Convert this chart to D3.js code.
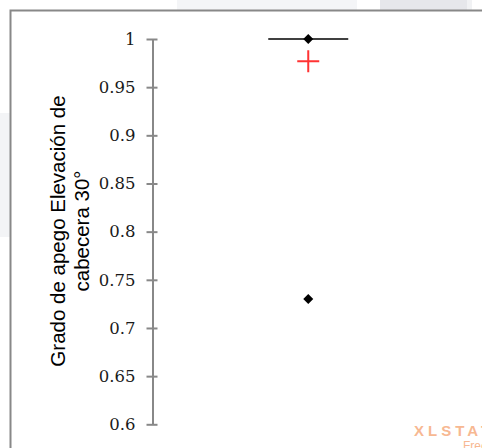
<!DOCTYPE html>
<html>
<head>
<meta charset="utf-8">
<script src="https://cdn.jsdelivr.net/npm/d3@7"></script>
<style>
  body { margin: 0; background: #fff; }
  svg { display: block; }
</style>
</head>
<body>
<div id="chart"></div>
<script>
const width = 482
const height = 448

// data
const categories = ['Grado de apego Elevación de cabecera 30°']
const minValues = [0.73]
const q1Values = [1]
const medianValues = [1]
const q3Values = [1]
const maxValues = [1]
const meanValues = [0.977]
const yTicks = [0.6, 0.65, 0.7, 0.75, 0.8, 0.85, 0.9, 0.95, 1]
const yLabelLines = ['Grado de apego Elevación de', 'cabecera 30°']

const svg = d3.select('#chart').append('svg')
  .attr('width', width)
  .attr('height', height)

// faint page blocks behind the chart frame
const bg = [
  { x: 177, y: 0, w: 180, h: 10, c: '#f4f5f7' },
  { x: 380, y: 0, w: 87, h: 10, c: '#e6e7eb' },
  { x: 467, y: 0, w: 5, h: 10, c: '#f1f2f4' },
  { x: 0, y: 113, w: 10, h: 124, c: '#f3f4f6' }
]
svg.selectAll('rect.bg').data(bg).join('rect')
  .attr('class', 'bg')
  .attr('x', d => d.x).attr('y', d => d.y)
  .attr('width', d => d.w).attr('height', d => d.h)
  .attr('fill', d => d.c)

// frame
svg.append('path')
  .attr('d', `M10.5,${height} V10.5 H${width}`)
  .attr('fill', 'none')
  .attr('stroke', '#888')
  .attr('stroke-width', 2)

const y = d3.scaleLinear().domain([0.6, 1]).range([424.3, 39])
const x = d3.scaleBand().domain(categories).range([152.5, 464]).paddingInner(0).paddingOuter(0)

const yAxis = d3.axisLeft(y)
  .tickValues(yTicks)
  .tickFormat(d3.format('~g'))
  .tickSize(0)
  .tickPadding(17)

const gy = svg.append('g')
  .attr('transform', 'translate(152.5,0)')
  .call(yAxis)
gy.select('.domain').attr('stroke', '#888').attr('stroke-width', 2)
gy.selectAll('.tick line')
  .attr('x1', -6).attr('x2', 5)
  .attr('stroke', '#888').attr('stroke-width', 2)
gy.selectAll('.tick text')
  .attr('font-family', 'DejaVu Serif')
  .attr('font-size', 16.5)
  .attr('fill', '#1a1a1a')

// y axis title
const title = svg.append('text')
  .attr('transform', 'translate(65,231) rotate(-90)')
  .attr('text-anchor', 'middle')
  .attr('font-family', 'Liberation Sans, Arial, sans-serif')
  .attr('font-size', 20.5)
  .attr('fill', '#000')
title.selectAll('tspan').data(yLabelLines).join('tspan')
  .attr('x', 0)
  .attr('dy', (d, i) => i === 0 ? 0 : 24)
  .text(d => d)

// box (collapsed: q1 = median = q3 = 1)
const boxes = categories.map((c, i) => ({
  c, min: minValues[i], q1: q1Values[i], med: medianValues[i], q3: q3Values[i], max: maxValues[i], mean: meanValues[i]
}))
const half = 40
const g = svg.append('g')
boxes.forEach(d => {
  const cx = x(d.c) + x.bandwidth() / 2
  g.append('rect')
    .attr('x', cx - half).attr('y', y(d.q3))
    .attr('width', half * 2).attr('height', y(d.q1) - y(d.q3))
    .attr('fill', 'none').attr('stroke', '#000').attr('stroke-width', 1.5)
  g.append('line')
    .attr('x1', cx - half).attr('x2', cx + half)
    .attr('y1', y(d.med)).attr('y2', y(d.med))
    .attr('stroke', '#000').attr('stroke-width', 1.5)
  // min / max diamonds
  g.selectAll(null).data([d.min, d.max]).join('path')
    .attr('d', d3.symbol(d3.symbolDiamond2, 64))
    .attr('transform', v => `translate(${cx},${y(v)})`)
    .attr('fill', '#000')
  // mean cross
  g.append('path')
    .attr('d', `M${cx - 11},${y(d.mean)} H${cx + 11} M${cx},${y(d.mean) - 11} V${y(d.mean) + 11}`)
    .attr('stroke', '#ff3333').attr('stroke-width', 2).attr('fill', 'none')
})

// watermark
svg.append('text')
  .attr('x', 414).attr('y', 436)
  .attr('font-family', 'Liberation Sans, Arial, sans-serif')
  .attr('font-weight', 'bold')
  .attr('font-size', 15)
  .attr('letter-spacing', 4)
  .attr('fill', '#f7b892')
  .text('XLSTAT')
svg.append('text')
  .attr('x', 463).attr('y', 450)
  .attr('font-family', 'Liberation Sans, Arial, sans-serif')
  .attr('font-size', 12)
  .attr('fill', '#f7b892')
  .text('Free')
</script>
</body>
</html>
